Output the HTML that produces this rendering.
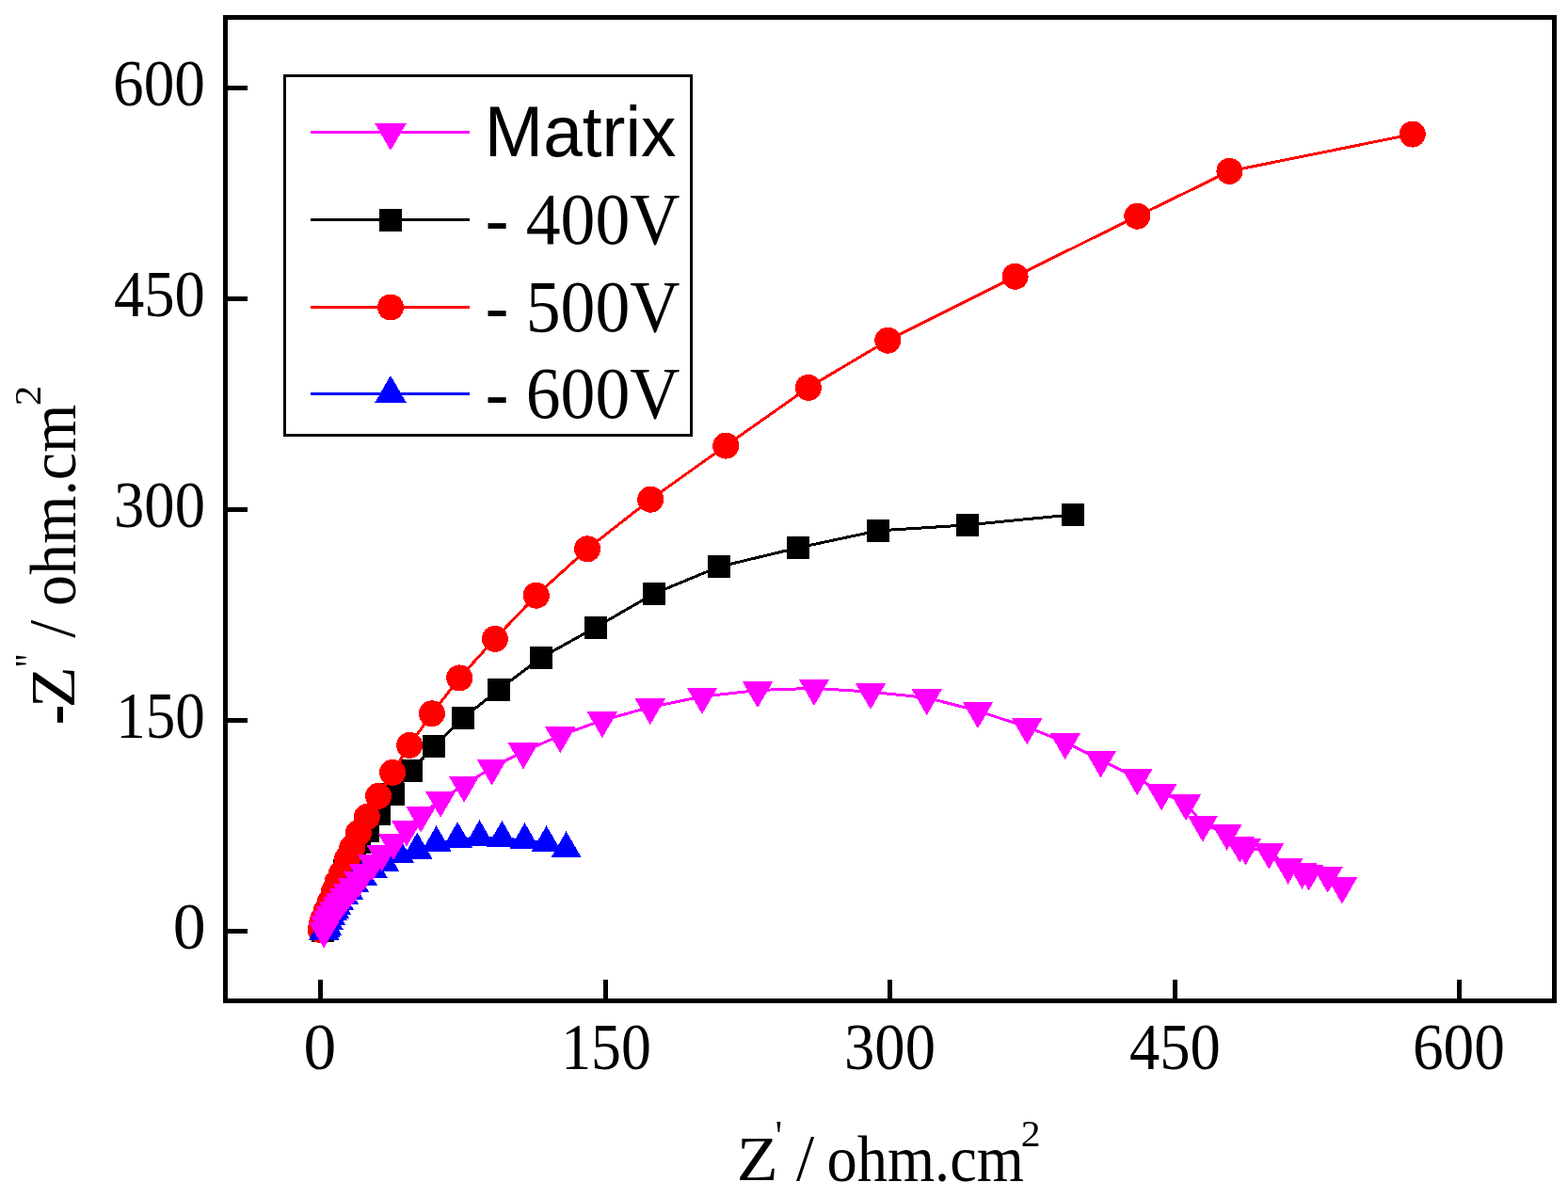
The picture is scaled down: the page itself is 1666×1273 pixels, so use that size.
<!DOCTYPE html>
<html><head><meta charset="utf-8"><title>Nyquist plot</title>
<style>
html,body{margin:0;padding:0;background:#fff;}
svg{display:block;}
.serif{font-family:"Liberation Serif","Times New Roman",serif;}
.sans{font-family:"Liberation Sans",Arial,sans-serif;}
</style></head><body>
<svg width="1666" height="1273" viewBox="0 0 1666 1273" shape-rendering="crispEdges">
<rect width="1666" height="1273" fill="#fff"/>

<g fill="none" stroke-width="3" stroke-linejoin="round">
<polyline stroke="#000" points="342.5,989.0 344.0,983.0 345.5,977.0 347.5,971.0 350.0,964.0 352.5,957.0 355.5,950.0 358.5,942.0 362.0,934.0 366.0,925.0 371.0,916.0 376.5,906.0 381.8,894.9 390.8,882.7 402.9,864.7 417.9,843.6 437.0,819.0 461.4,792.5 492.0,763.0 529.9,732.8 574.9,698.8 632.5,666.8 694.9,630.8 763.8,602.3 847.8,582.1 932.9,563.9 1027.9,557.9 1140.0,546.8"/>
</g>
<g fill="#000"><rect x="330.5" y="977.0" width="24" height="24"/><rect x="332.0" y="971.0" width="24" height="24"/><rect x="333.5" y="965.0" width="24" height="24"/><rect x="335.5" y="959.0" width="24" height="24"/><rect x="338.0" y="952.0" width="24" height="24"/><rect x="340.5" y="945.0" width="24" height="24"/><rect x="343.5" y="938.0" width="24" height="24"/><rect x="346.5" y="930.0" width="24" height="24"/><rect x="350.0" y="922.0" width="24" height="24"/><rect x="354.0" y="913.0" width="24" height="24"/><rect x="359.0" y="904.0" width="24" height="24"/><rect x="364.5" y="894.0" width="24" height="24"/><rect x="369.8" y="882.9" width="24" height="24"/><rect x="378.8" y="870.7" width="24" height="24"/><rect x="390.9" y="852.7" width="24" height="24"/><rect x="405.9" y="831.6" width="24" height="24"/><rect x="425.0" y="807.0" width="24" height="24"/><rect x="449.4" y="780.5" width="24" height="24"/><rect x="480.0" y="751.0" width="24" height="24"/><rect x="517.9" y="720.8" width="24" height="24"/><rect x="562.9" y="686.8" width="24" height="24"/><rect x="620.5" y="654.8" width="24" height="24"/><rect x="682.9" y="618.8" width="24" height="24"/><rect x="751.8" y="590.3" width="24" height="24"/><rect x="835.8" y="570.1" width="24" height="24"/><rect x="920.9" y="551.9" width="24" height="24"/><rect x="1015.9" y="545.9" width="24" height="24"/><rect x="1128.0" y="534.8" width="24" height="24"/></g>
<polyline fill="none" stroke="#f00" stroke-width="3" stroke-linejoin="round" points="340.5,988.0 341.5,983.0 343.2,976.6 346.7,968.0 351.0,958.0 355.0,947.0 358.5,937.5 362.9,928.2 369.1,912.5 374.2,900.7 380.9,885.0 389.9,868.0 402.0,845.8 417.1,820.8 435.1,791.9 458.9,758.3 488.2,720.4 525.9,678.8 569.8,632.7 624.1,583.3 691.2,530.7 771.2,473.6 858.8,411.9 943.3,361.7 1078.6,293.8 1208.3,229.7 1306.4,181.9 1500.8,142.6"/>
<g fill="#f00"><circle cx="340.5" cy="988.0" r="14"/><circle cx="341.5" cy="983.0" r="14"/><circle cx="343.2" cy="976.6" r="14"/><circle cx="346.7" cy="968.0" r="14"/><circle cx="351.0" cy="958.0" r="14"/><circle cx="355.0" cy="947.0" r="14"/><circle cx="358.5" cy="937.5" r="14"/><circle cx="362.9" cy="928.2" r="14"/><circle cx="369.1" cy="912.5" r="14"/><circle cx="374.2" cy="900.7" r="14"/><circle cx="380.9" cy="885.0" r="14"/><circle cx="389.9" cy="868.0" r="14"/><circle cx="402.0" cy="845.8" r="14"/><circle cx="417.1" cy="820.8" r="14"/><circle cx="435.1" cy="791.9" r="14"/><circle cx="458.9" cy="758.3" r="14"/><circle cx="488.2" cy="720.4" r="14"/><circle cx="525.9" cy="678.8" r="14"/><circle cx="569.8" cy="632.7" r="14"/><circle cx="624.1" cy="583.3" r="14"/><circle cx="691.2" cy="530.7" r="14"/><circle cx="771.2" cy="473.6" r="14"/><circle cx="858.8" cy="411.9" r="14"/><circle cx="943.3" cy="361.7" r="14"/><circle cx="1078.6" cy="293.8" r="14"/><circle cx="1208.3" cy="229.7" r="14"/><circle cx="1306.4" cy="181.9" r="14"/><circle cx="1500.8" cy="142.6" r="14"/></g>
<polyline fill="none" stroke="#00f" stroke-width="3" stroke-linejoin="round" points="344.3,989.6 345.5,987.1 346.8,984.6 348.5,978.6 350.7,973.3 352.8,969.1 354.8,966.6 356.9,962.4 359.9,957.8 365.0,952.1 370.0,946.4 376.0,938.9 385.0,932.1 395.8,924.1 408.0,916.4 424.0,908.1 443.3,903.4 463.6,896.1 486.1,892.0 509.5,890.1 533.4,890.8 557.5,893.1 580.6,896.1 601.6,902.1"/>
<g fill="#00f"><polygon points="328.1,998.9 360.6,998.9 344.3,970.8"/><polygon points="329.2,996.4 361.8,996.4 345.5,968.3"/><polygon points="330.6,993.9 363.1,993.9 346.8,965.8"/><polygon points="332.2,987.9 364.8,987.9 348.5,959.8"/><polygon points="334.4,982.6 366.9,982.6 350.7,954.5"/><polygon points="336.6,978.4 369.1,978.4 352.8,950.3"/><polygon points="338.6,975.9 371.1,975.9 354.8,947.8"/><polygon points="340.6,971.7 373.1,971.7 356.9,943.6"/><polygon points="343.6,967.1 376.1,967.1 359.9,939.0"/><polygon points="348.8,961.4 381.2,961.4 365.0,933.3"/><polygon points="353.8,955.7 386.2,955.7 370.0,927.6"/><polygon points="359.8,948.2 392.2,948.2 376.0,920.1"/><polygon points="368.8,941.4 401.2,941.4 385.0,913.3"/><polygon points="379.6,933.4 412.1,933.4 395.8,905.3"/><polygon points="391.8,925.7 424.2,925.7 408.0,897.6"/><polygon points="407.8,917.4 440.2,917.4 424.0,889.3"/><polygon points="427.1,912.7 459.6,912.7 443.3,884.6"/><polygon points="447.4,905.4 479.9,905.4 463.6,877.3"/><polygon points="469.9,901.3 502.4,901.3 486.1,873.2"/><polygon points="493.2,899.4 525.8,899.4 509.5,871.3"/><polygon points="517.1,900.1 549.6,900.1 533.4,872.0"/><polygon points="541.2,902.4 573.8,902.4 557.5,874.3"/><polygon points="564.4,905.4 596.9,905.4 580.6,877.3"/><polygon points="585.4,911.4 617.9,911.4 601.6,883.3"/></g>
<polyline fill="none" stroke="#f0f" stroke-width="3" stroke-linejoin="round" points="344.0,988.9 346.0,982.2 348.5,977.2 351.5,972.2 355.0,967.2 359.0,962.2 362.0,958.2 366.0,953.2 370.0,948.2 375.0,942.2 381.0,935.2 387.0,927.2 396.0,917.3 405.8,907.3 418.1,895.3 432.0,881.0 447.3,865.8 468.1,850.0 493.1,834.1 522.6,815.8 556.0,798.7 595.3,781.5 639.9,765.4 690.8,751.5 746.0,740.2 805.0,733.5 865.0,731.3 925.0,735.2 984.7,741.4 1039.0,755.3 1091.2,772.6 1131.7,788.5 1169.5,807.7 1208.2,826.5 1234.1,842.5 1260.1,853.4 1277.9,875.9 1303.6,885.0 1317.3,897.9 1323.5,900.6 1348.3,904.9 1368.6,920.9 1383.5,926.0 1390.7,927.8 1410.7,930.0 1425.9,941.7"/>
<g fill="#f0f"><polygon points="327.8,979.6 360.2,979.6 344.0,1007.7"/><polygon points="329.8,972.9 362.2,972.9 346.0,1001.0"/><polygon points="332.2,967.9 364.8,967.9 348.5,996.0"/><polygon points="335.2,962.9 367.8,962.9 351.5,991.0"/><polygon points="338.8,957.9 371.2,957.9 355.0,986.0"/><polygon points="342.8,952.9 375.2,952.9 359.0,981.0"/><polygon points="345.8,948.9 378.2,948.9 362.0,977.0"/><polygon points="349.8,943.9 382.2,943.9 366.0,972.0"/><polygon points="353.8,938.9 386.2,938.9 370.0,967.0"/><polygon points="358.8,932.9 391.2,932.9 375.0,961.0"/><polygon points="364.8,925.9 397.2,925.9 381.0,954.0"/><polygon points="370.8,917.9 403.2,917.9 387.0,946.0"/><polygon points="379.8,908.0 412.2,908.0 396.0,936.1"/><polygon points="389.6,898.0 422.1,898.0 405.8,926.1"/><polygon points="401.9,886.0 434.4,886.0 418.1,914.1"/><polygon points="415.8,871.7 448.2,871.7 432.0,899.8"/><polygon points="431.1,856.5 463.6,856.5 447.3,884.6"/><polygon points="451.9,840.7 484.4,840.7 468.1,868.8"/><polygon points="476.9,824.8 509.4,824.8 493.1,852.9"/><polygon points="506.4,806.5 538.9,806.5 522.6,834.6"/><polygon points="539.8,789.4 572.2,789.4 556.0,817.5"/><polygon points="579.0,772.2 611.5,772.2 595.3,800.3"/><polygon points="623.6,756.1 656.1,756.1 639.9,784.2"/><polygon points="674.5,742.2 707.0,742.2 690.8,770.3"/><polygon points="729.8,730.9 762.2,730.9 746.0,759.0"/><polygon points="788.8,724.2 821.2,724.2 805.0,752.3"/><polygon points="848.8,722.0 881.2,722.0 865.0,750.1"/><polygon points="908.8,725.9 941.2,725.9 925.0,754.0"/><polygon points="968.5,732.1 1001.0,732.1 984.7,760.2"/><polygon points="1022.8,746.0 1055.2,746.0 1039.0,774.1"/><polygon points="1075.0,763.3 1107.5,763.3 1091.2,791.4"/><polygon points="1115.5,779.2 1148.0,779.2 1131.7,807.3"/><polygon points="1153.2,798.4 1185.8,798.4 1169.5,826.5"/><polygon points="1192.0,817.2 1224.5,817.2 1208.2,845.3"/><polygon points="1217.8,833.2 1250.3,833.2 1234.1,861.3"/><polygon points="1243.8,844.1 1276.3,844.1 1260.1,872.2"/><polygon points="1261.7,866.6 1294.2,866.6 1277.9,894.7"/><polygon points="1287.3,875.7 1319.8,875.7 1303.6,903.8"/><polygon points="1301.0,888.6 1333.5,888.6 1317.3,916.7"/><polygon points="1307.2,891.3 1339.8,891.3 1323.5,919.4"/><polygon points="1332.0,895.6 1364.5,895.6 1348.3,923.7"/><polygon points="1352.3,911.6 1384.8,911.6 1368.6,939.7"/><polygon points="1367.2,916.7 1399.8,916.7 1383.5,944.8"/><polygon points="1374.5,918.5 1407.0,918.5 1390.7,946.6"/><polygon points="1394.5,920.7 1427.0,920.7 1410.7,948.8"/><polygon points="1409.7,932.4 1442.2,932.4 1425.9,960.5"/></g>
<rect x="239.5" y="18.5" width="1412" height="1045" fill="none" stroke="#000" stroke-width="5"/>
<line x1="242" y1="93.5" x2="263" y2="93.5" stroke="#000" stroke-width="5"/>
<line x1="242" y1="317.5" x2="263" y2="317.5" stroke="#000" stroke-width="5"/>
<line x1="242" y1="541.5" x2="263" y2="541.5" stroke="#000" stroke-width="5"/>
<line x1="242" y1="765.5" x2="263" y2="765.5" stroke="#000" stroke-width="5"/>
<line x1="242" y1="989.5" x2="263" y2="989.5" stroke="#000" stroke-width="5"/>
<line x1="340.5" y1="1041" x2="340.5" y2="1061" stroke="#000" stroke-width="5"/>
<line x1="643" y1="1041" x2="643" y2="1061" stroke="#000" stroke-width="5"/>
<line x1="945.5" y1="1041" x2="945.5" y2="1061" stroke="#000" stroke-width="5"/>
<line x1="1248" y1="1041" x2="1248" y2="1061" stroke="#000" stroke-width="5"/>
<line x1="1550.5" y1="1041" x2="1550.5" y2="1061" stroke="#000" stroke-width="5"/>
<rect x="302.5" y="80.5" width="432" height="382" fill="#fff" stroke="#000" stroke-width="3"/>
<line x1="330" y1="140.5" x2="499" y2="140.5" stroke="#f0f" stroke-width="3"/>
<g fill="#f0f"><polygon points="398.0,130.7 432.0,130.7 415.0,160.1"/></g>
<line x1="330" y1="233.5" x2="499" y2="233.5" stroke="#000" stroke-width="3"/>
<g fill="#000"><rect x="403.0" y="221.5" width="24" height="24"/></g>
<line x1="330" y1="326.5" x2="499" y2="326.5" stroke="#f00" stroke-width="3"/>
<g fill="#f00"><circle cx="415.0" cy="326.5" r="14"/></g>
<line x1="330" y1="418.5" x2="499" y2="418.5" stroke="#00f" stroke-width="3"/>
<g fill="#00f"><polygon points="398.0,428.3 432.0,428.3 415.0,398.9"/></g>
<text class="serif" font-size="66" xml:space="preserve" transform="translate(120.03,112.00) scale(0.9892,1.0698)">600</text>
<text class="serif" font-size="66" xml:space="preserve" transform="translate(121.02,336.00) scale(0.9789,1.0698)">450</text>
<text class="serif" font-size="66" xml:space="preserve" transform="translate(121.06,560.00) scale(0.9785,1.0698)">300</text>
<text class="serif" font-size="66" xml:space="preserve" transform="translate(123.27,784.00) scale(0.9556,1.0698)">150</text>
<text class="serif" font-size="66" xml:space="preserve" transform="translate(183.63,1007.60) scale(1.0556,1.0605)">0</text>
<text class="serif" font-size="66" xml:space="preserve" transform="translate(322.54,1135.70) scale(1.0519,1.0605)">0</text>
<text class="serif" font-size="66" xml:space="preserve" transform="translate(596.20,1136.00) scale(0.9667,1.0698)">150</text>
<text class="serif" font-size="66" xml:space="preserve" transform="translate(897.06,1136.00) scale(0.9785,1.0698)">300</text>
<text class="serif" font-size="66" xml:space="preserve" transform="translate(1200.02,1136.00) scale(0.9789,1.0698)">450</text>
<text class="serif" font-size="66" xml:space="preserve" transform="translate(1500.93,1135.80) scale(0.9903,1.0674)">600</text>
<text class="sans" font-size="74" xml:space="preserve" transform="translate(514.83,165.90) scale(1.0113,1.0310)">Matrix</text>
<text class="serif" font-size="74" xml:space="preserve" transform="translate(515.71,259.10) scale(0.9966,1.0612)">- 400V</text>
<text class="serif" font-size="74" xml:space="preserve" transform="translate(515.71,352.20) scale(0.9966,1.0592)">- 500V</text>
<text class="serif" font-size="74" xml:space="preserve" transform="translate(515.71,443.80) scale(0.9966,1.0531)">- 600V</text>
<text class="serif" font-size="66" xml:space="preserve" transform="translate(782.63,1254.00) scale(1.0912,1.0256)">Z</text>
<text class="serif" font-size="38" xml:space="preserve" transform="translate(823.77,1222.56) scale(1.0667,1.2222)">'</text>
<text class="serif" font-size="66" xml:space="preserve" transform="translate(846.10,1253.83) scale(1.0444,1.0682)">/</text>
<text class="serif" font-size="66" xml:space="preserve" transform="translate(878.57,1255.00) scale(0.9763,1.0444)">ohm.cm</text>
<text class="serif" font-size="38" xml:space="preserve" transform="translate(1084.81,1218.00) scale(1.0933,1.0400)">2</text>
<text class="serif" font-size="66" xml:space="preserve" transform="translate(82.68,770.17) rotate(-90) scale(0.9833,1.2600)">-</text>
<text class="serif" font-size="66" xml:space="preserve" transform="translate(79.30,752.40) rotate(-90) scale(1.1000,1.0256)">Z</text>
<text class="serif" font-size="38" xml:space="preserve" transform="translate(47.66,708.68) rotate(-90) scale(0.9900,1.2222)">''</text>
<text class="serif" font-size="66" xml:space="preserve" transform="translate(78.93,677.70) rotate(-90) scale(1.0333,1.0705)">/</text>
<text class="serif" font-size="66" xml:space="preserve" transform="translate(79.90,644.00) rotate(-90) scale(1.0000,1.0422)">ohm.cm</text>
<text class="serif" font-size="38" xml:space="preserve" transform="translate(43.00,431.28) rotate(-90) scale(1.1400,1.0440)">2</text>
</svg></body></html>
